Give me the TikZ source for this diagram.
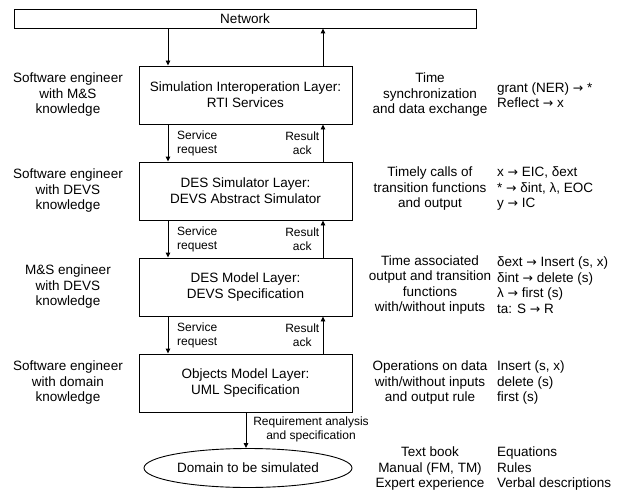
\documentclass[tikz,border=0pt]{standalone}
\usepackage{fontspec}
\setmainfont{Liberation Sans}
\newfontfamily\arrowfont{DejaVu Sans}
\newcommand{\toarrow}{{\arrowfont\fontsize{12.5}{15.5}\selectfont →}}
\usetikzlibrary{arrows.meta,shapes.geometric}
\begin{document}
\begin{tikzpicture}[x=1pt,y=-1pt,
  layerbox/.style={draw=black, line width=0.9pt, minimum width=213pt, minimum height=58pt,
    inner sep=0pt, align=center, font=\fontsize{13.5}{16}\selectfont},
  flow/.style={draw=black, line width=0.9pt, -{Triangle[length=5pt,width=4.5pt]}},
  ctext/.style={align=center, inner sep=0pt, font=\fontsize{13.5}{15.5}\selectfont},
  ltext/.style={align=left, anchor=west, inner sep=0pt, font=\fontsize{13.5}{15.5}\selectfont},
  small/.style={inner sep=0pt, font=\fontsize{12}{14}\selectfont}
]
\useasboundingbox (0,0) rectangle (623,492);

% network bar
\node[draw=black, line width=0.9pt, minimum width=462pt, minimum height=19pt, inner sep=0pt,
  font=\fontsize{13.5}{16}\selectfont] (net) at (245,18.5) {Network};

% the four layers
\node[layerbox] (l1) at (245.5,95)  {Simulation Interoperation Layer:\\RTI Services};
\node[layerbox] (l2) at (245.5,191) {DES Simulator Layer:\\DEVS Abstract Simulator};
\node[layerbox] (l3) at (245.5,287) {DES Model Layer:\\DEVS Specification};
\node[layerbox] (l4) at (245.5,383) {Objects Model Layer:\\UML Specification};

% domain
\node[draw=black, line width=0.9pt, ellipse, minimum width=208pt, minimum height=39pt, inner sep=0pt,
  font=\fontsize{13.5}{16}\selectfont] (dom) at (248,468) {Domain to be simulated};

% request / result columns
\coordinate (dn) at (168,0);
\coordinate (up) at (323,0);
\coordinate (rq) at (246,0);

\draw[flow] (net.south -| dn) -- (l1.north -| dn);
\draw[flow] (l1.north -| up) -- (net.south -| up);
\draw[flow] (l1.south -| dn) -- (l2.north -| dn);
\draw[flow] (l2.north -| up) -- (l1.south -| up);
\draw[flow] (l2.south -| dn) -- (l3.north -| dn);
\draw[flow] (l3.north -| up) -- (l2.south -| up);
\draw[flow] (l3.south -| dn) -- (l4.north -| dn);
\draw[flow] (l4.north -| up) -- (l3.south -| up);
\draw[flow] (l4.south -| rq) -- (dom.north -| rq);

% arrow labels
\node[small, align=left, anchor=west] (s1) at (177,143) {Service\\request};
\node[small, align=center, anchor=east] (r1) at (319.5,143) {Result\\ack};
\node[small, align=left, anchor=west] (s2) at (177,239.5) {Service\\request};
\node[small, align=center, anchor=east] (r2) at (319.5,239.5) {Result\\ack};
\node[small, align=left, anchor=west] (s3) at (177,335) {Service\\request};
\node[small, align=center, anchor=east] (r3) at (319.5,335) {Result\\ack};
\node[small, align=center] (req) at (311,429) {Requirement analysis\\and specification};

% roles
\node[ctext] (p1) at (68,95)  {Software engineer\\with M\&S\\knowledge};
\node[ctext] (p2) at (68,191) {Software engineer\\with DEVS\\knowledge};
\node[ctext] (p3) at (68,287) {M\&S engineer\\with DEVS\\knowledge};
\node[ctext] (p4) at (68,383) {Software engineer\\with domain\\knowledge};

% what each layer provides
\node[ctext] (d1) at (430,95)  {Time\\synchronization\\and data exchange};
\node[ctext] (d2) at (430,189) {Timely calls of\\transition functions\\and output};
\node[ctext] (d3) at (430,285) {Time associated\\output and transition\\functions\\with/without inputs};
\node[ctext] (d4) at (430,383) {Operations on data\\with/without inputs\\and output rule};
\node[ctext] (d5) at (430,469) {Text book\\Manual (FM, TM)\\Expert experience};

% mappings
\node[ltext] (m1) at (497,95)  {grant (NER) \toarrow{} *\\Reflect \toarrow{} x};
\node[ltext] (m2) at (497,189) {x \toarrow{} EIC, δext\\* \toarrow{} δint, λ, EOC\\y \toarrow{} IC};
\node[ltext] (m3) at (497,285) {δext \toarrow{} Insert (s, x)\\δint \toarrow{} delete (s)\\λ \toarrow{} first (s)\\ta: S \toarrow{} R};
\node[ltext] (m4) at (497,383) {Insert (s, x)\\delete (s)\\first (s)};
\node[ltext] (m5) at (497,469) {Equations\\Rules\\Verbal descriptions};
\end{tikzpicture}
\end{document}
